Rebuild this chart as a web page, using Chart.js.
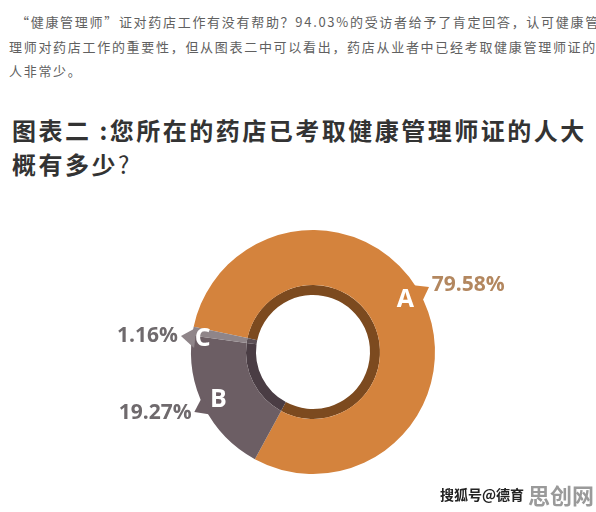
<!DOCTYPE html>
<html><head><meta charset="utf-8">
<script src="https://cdn.jsdelivr.net/npm/chart.js@4.4.1/dist/chart.umd.min.js"></script>
<style>
html,body{margin:0;padding:0;background:#fff;width:596px;height:512px;overflow:hidden;position:relative;font-family:"Noto Sans CJK SC","Noto Sans",sans-serif;}
.p{position:absolute;left:0;white-space:nowrap;font-size:13px;letter-spacing:1.7px;color:#606060;}
.t{position:absolute;left:12px;white-space:nowrap;font-size:24px;font-weight:bold;letter-spacing:2.5px;color:#333;}
#wrap{position:absolute;left:0;top:200px;width:596px;height:310px;}
.wm{position:absolute;white-space:nowrap;}
</style></head><body>
<div class="p" style="top:12px;left:16px;">“健康管理师”证对药店工作有没有帮助？94.03%的受访者给予了肯定回答，认可健康管</div>
<div class="p" style="top:37px;left:9px;">理师对药店工作的重要性，但从图表二中可以看出，药店从业者中已经考取健康管理师证的</div>
<div class="p" style="top:61px;left:9px;">人非常少。</div>
<div class="t" style="top:112px;">图表二 :您所在的药店已考取健康管理师证的人大</div>
<div class="t" style="top:146px;">概有多少<span style="font-weight:normal">?</span></div>
<div id="wrap"><canvas id="c" width="596" height="310"></canvas></div>
<div class="wm" style="left:440px;top:484px;font-size:14px;font-weight:bold;color:#222;">搜狐号@德育</div>
<div class="wm" style="left:528px;top:478px;font-size:22px;font-weight:bold;color:#9a9a9a;">思创网</div>
<script>
const categories = ["A", "B", "C"];
const values = [79.58, 19.27, 1.16];
const valueLabels = ["79.58%", "19.27%", "1.16%"];
const mainColors = ["#d4833d", "#6c5e64", "#8f8589"];
const innerColors = ["#7c4a1f", "#4a3d44", "#5b4f55"];
const labelColors = ["#b3875f", "#6f6a6d", "#6f6a6d"];
const letterShift = [-4.5, 0, -3];

const calloutPlugin = {
  id: 'callout',
  afterDatasetsDraw(chart) {
    const ctx = chart.ctx;
    const meta = chart.getDatasetMeta(0);
    meta.data.forEach((arc, i) => {
      const p = arc.getProps(['x','y','startAngle','endAngle','outerRadius','innerRadius'], true);
      const mid = (p.startAngle + p.endAngle) / 2 + letterShift[i] * Math.PI / 180;
      const R = p.outerRadius;
      const d = 5 * Math.PI / 180;
      ctx.save();
      ctx.fillStyle = mainColors[i];
      ctx.beginPath();
      ctx.moveTo(p.x + (R - 3) * Math.cos(mid - d), p.y + (R - 3) * Math.sin(mid - d));
      ctx.lineTo(p.x + (R + 11) * Math.cos(mid), p.y + (R + 11) * Math.sin(mid));
      ctx.lineTo(p.x + (R - 3) * Math.cos(mid + d), p.y + (R - 3) * Math.sin(mid + d));
      ctx.closePath();
      ctx.fill();
      const lr = i === 2 ? R - 11 : R - 16;
      ctx.fillStyle = '#ffffff';
      ctx.font = 'bold 25px "Open Sans", "DejaVu Sans", sans-serif';
      ctx.textAlign = 'center';
      ctx.textBaseline = 'middle';
      ctx.fillText(categories[i], p.x + lr * Math.cos(mid), p.y + lr * Math.sin(mid));
      const vr = R + 14;
      const vx = p.x + vr * Math.cos(mid);
      const vy = p.y + vr * Math.sin(mid);
      ctx.fillStyle = labelColors[i];
      ctx.font = 'bold 21px "Open Sans", "DejaVu Sans", sans-serif';
      ctx.textAlign = Math.cos(mid) >= 0 ? 'left' : 'right';
      ctx.fillText(valueLabels[i], vx, vy);
      ctx.restore();
    });
  }
};

new Chart(document.getElementById('c'), {
  type: 'doughnut',
  data: {
    labels: categories,
    datasets: [
      { data: values, backgroundColor: mainColors, borderWidth: 0, weight: 55 },
      { data: values, backgroundColor: innerColors, borderWidth: 0, weight: 10 }
    ]
  },
  options: {
    responsive: false,
    animation: false,
    rotation: 282,
    cutout: 57,
    layout: { padding: { left: 191, right: 161, top: 30, bottom: 36 } },
    plugins: { legend: { display: false }, tooltip: { enabled: false } }
  },
  plugins: [calloutPlugin]
});
</script>
</body></html>
